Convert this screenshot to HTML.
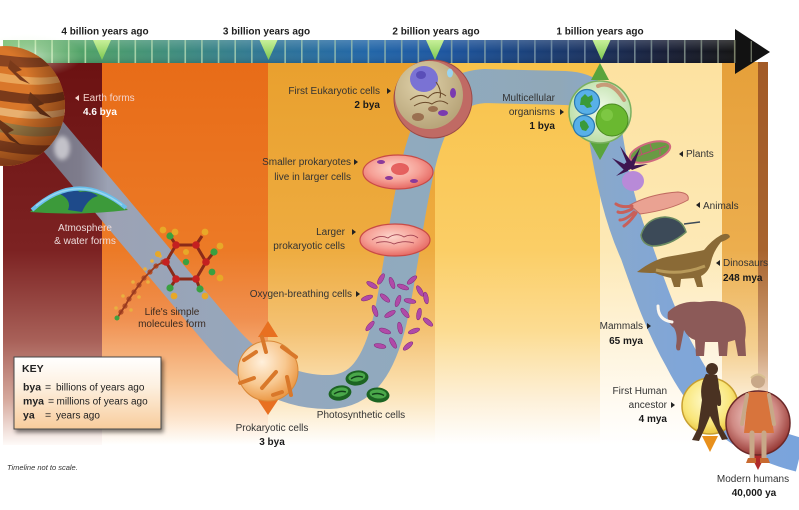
<!DOCTYPE html>
<html><head><meta charset="utf-8">
<style>
html,body{margin:0;padding:0;background:#fff;}
svg{display:block;}
text{font-family:"Liberation Sans",Arial,sans-serif;}
</style></head><body>
<svg width="799" height="510" viewBox="0 0 799 510" xmlns="http://www.w3.org/2000/svg">
<defs>
 <linearGradient id="g1" gradientUnits="userSpaceOnUse" x1="0" y1="63" x2="0" y2="445">
  <stop offset="0" stop-color="#6c1212"/><stop offset="0.49" stop-color="#7c2222"/><stop offset="0.725" stop-color="#a86058"/><stop offset="0.882" stop-color="#d6aa9e"/><stop offset="1" stop-color="#fefaf8"/>
 </linearGradient>
 <linearGradient id="g2" gradientUnits="userSpaceOnUse" x1="0" y1="63" x2="0" y2="445">
  <stop offset="0" stop-color="#e86c18"/><stop offset="0.49" stop-color="#ec7a26"/><stop offset="0.67" stop-color="#f09050"/><stop offset="0.83" stop-color="#f8c494"/><stop offset="0.935" stop-color="#fde6cf"/><stop offset="1" stop-color="#fff"/>
 </linearGradient>
 <linearGradient id="g3" gradientUnits="userSpaceOnUse" x1="0" y1="63" x2="0" y2="445">
  <stop offset="0" stop-color="#e9a02e"/><stop offset="0.49" stop-color="#eeac40"/><stop offset="0.70" stop-color="#f4c274"/><stop offset="0.86" stop-color="#fbe2b4"/><stop offset="1" stop-color="#fff"/>
 </linearGradient>
 <linearGradient id="g4" gradientUnits="userSpaceOnUse" x1="0" y1="63" x2="0" y2="445">
  <stop offset="0" stop-color="#f8c24a"/><stop offset="0.49" stop-color="#fbce66"/><stop offset="0.70" stop-color="#fcdc92"/><stop offset="0.88" stop-color="#fdf0d8"/><stop offset="1" stop-color="#fff"/>
 </linearGradient>
 <linearGradient id="g5" gradientUnits="userSpaceOnUse" x1="0" y1="63" x2="0" y2="445">
  <stop offset="0" stop-color="#fde2a0"/><stop offset="0.49" stop-color="#fde9b6"/><stop offset="0.70" stop-color="#fef2d6"/><stop offset="0.88" stop-color="#fffaf0"/><stop offset="1" stop-color="#fff"/>
 </linearGradient>
 <linearGradient id="g6" gradientUnits="userSpaceOnUse" x1="0" y1="63" x2="0" y2="445">
  <stop offset="0" stop-color="#e6a03a"/><stop offset="0.49" stop-color="#ecae4e"/><stop offset="0.75" stop-color="#f4d092"/><stop offset="0.93" stop-color="#fff8ee"/><stop offset="1" stop-color="#fff"/>
 </linearGradient>
 <linearGradient id="g7" gradientUnits="userSpaceOnUse" x1="0" y1="63" x2="0" y2="445">
  <stop offset="0" stop-color="#a25a26"/><stop offset="0.49" stop-color="#a8642e"/><stop offset="0.75" stop-color="#d0a27a"/><stop offset="0.93" stop-color="#fff4ea"/><stop offset="1" stop-color="#fff"/>
 </linearGradient>
 <linearGradient id="bar" gradientUnits="userSpaceOnUse" x1="3" y1="0" x2="736" y2="0">
  <stop offset="0" stop-color="#62b25a"/><stop offset="0.12" stop-color="#4fa06a"/><stop offset="0.25" stop-color="#3d8a80"/><stop offset="0.37" stop-color="#2e7498"/><stop offset="0.5" stop-color="#2266a8"/><stop offset="0.6" stop-color="#1d56a0"/><stop offset="0.7" stop-color="#1a4480"/><stop offset="0.8" stop-color="#1a3260"/><stop offset="0.9" stop-color="#181f38"/><stop offset="1" stop-color="#141414"/>
 </linearGradient>
 <linearGradient id="barShade" x1="0" y1="0" x2="0" y2="1">
  <stop offset="0" stop-color="#fff" stop-opacity="0.18"/><stop offset="0.5" stop-color="#fff" stop-opacity="0"/><stop offset="1" stop-color="#000" stop-opacity="0.12"/>
 </linearGradient>
 <linearGradient id="tick" gradientUnits="userSpaceOnUse" x1="3" y1="0" x2="760" y2="0">
  <stop offset="0" stop-color="#b8e4a0"/><stop offset="0.4" stop-color="#8ab8b0"/><stop offset="0.75" stop-color="#6a84a0"/><stop offset="1" stop-color="#7a8068"/>
 </linearGradient>
 <linearGradient id="mark" x1="0" y1="0" x2="0" y2="1">
  <stop offset="0" stop-color="#c8f09a"/><stop offset="1" stop-color="#7cc850"/>
 </linearGradient>
 <linearGradient id="rib" gradientUnits="userSpaceOnUse" x1="0" y1="0" x2="799" y2="0">
  <stop offset="0" stop-color="#6e6a78"/><stop offset="0.10" stop-color="#7e7c8c"/><stop offset="0.135" stop-color="#9ca2b4"/><stop offset="0.35" stop-color="#94a8be"/><stop offset="0.55" stop-color="#8faabe"/><stop offset="0.7" stop-color="#90a8b8"/><stop offset="0.76" stop-color="#88a8cc"/><stop offset="0.85" stop-color="#80a6d8"/><stop offset="1" stop-color="#7aa4dc"/>
 </linearGradient>
 <linearGradient id="keyg" x1="0" y1="0" x2="0" y2="1">
  <stop offset="0" stop-color="#ffffff"/><stop offset="0.4" stop-color="#fdf0e0"/><stop offset="1" stop-color="#f8cc9c"/>
 </linearGradient>
 <radialGradient id="earthShade" cx="0.35" cy="0.35" r="0.7">
  <stop offset="0.5" stop-color="#000" stop-opacity="0"/><stop offset="1" stop-color="#3a0a00" stop-opacity="0.5"/>
 </radialGradient>
 <radialGradient id="glow" cx="0.5" cy="0.5" r="0.5">
  <stop offset="0" stop-color="#ffffff" stop-opacity="0.8"/><stop offset="1" stop-color="#e0f8d0" stop-opacity="0"/>
 </radialGradient>
 <radialGradient id="prok" cx="0.4" cy="0.35" r="0.65">
  <stop offset="0" stop-color="#fff0dc"/><stop offset="0.6" stop-color="#f8c890"/><stop offset="1" stop-color="#ec9a48"/>
 </radialGradient>
 <radialGradient id="pink" cx="0.45" cy="0.4" r="0.6">
  <stop offset="0" stop-color="#fcd6cc"/><stop offset="0.6" stop-color="#f6a096"/><stop offset="1" stop-color="#e66a64"/>
 </radialGradient>
 <radialGradient id="euk" cx="0.4" cy="0.35" r="0.65">
  <stop offset="0" stop-color="#e0d2aa"/><stop offset="1" stop-color="#b8a57a"/>
 </radialGradient>
 <radialGradient id="ape" cx="0.45" cy="0.4" r="0.6">
  <stop offset="0" stop-color="#fffbd0"/><stop offset="0.7" stop-color="#f9e67a"/><stop offset="1" stop-color="#ecc844"/>
 </radialGradient>
 <radialGradient id="hum" cx="0.45" cy="0.4" r="0.6">
  <stop offset="0" stop-color="#f2d2cc"/><stop offset="0.6" stop-color="#d08a84"/><stop offset="1" stop-color="#983a36"/>
 </radialGradient>
 <radialGradient id="multi" cx="0.5" cy="0.45" r="0.6">
  <stop offset="0" stop-color="#f0faea"/><stop offset="1" stop-color="#b8dca0"/>
 </radialGradient>
 <clipPath id="earthClip"><circle cx="5" cy="106" r="60"/></clipPath>
 <filter id="blur2" x="-50%" y="-50%" width="200%" height="200%"><feGaussianBlur stdDeviation="2"/></filter>
 <filter id="shadow" x="-10%" y="-10%" width="130%" height="140%"><feGaussianBlur in="SourceAlpha" stdDeviation="2"/><feOffset dx="2" dy="3"/><feComponentTransfer><feFuncA type="linear" slope="0.5"/></feComponentTransfer><feMerge><feMergeNode/><feMergeNode in="SourceGraphic"/></feMerge></filter>
</defs>

<rect x="3" y="62" width="99" height="383" fill="url(#g1)"/>
<rect x="102" y="62" width="167" height="383" fill="url(#g2)"/>
<rect x="268" y="62" width="168" height="383" fill="url(#g3)"/>
<rect x="435" y="62" width="166" height="383" fill="url(#g4)"/>
<rect x="600" y="62" width="123" height="383" fill="url(#g5)"/>
<rect x="722" y="62" width="37" height="383" fill="url(#g6)"/>
<rect x="758" y="62" width="10" height="383" fill="url(#g7)"/>

<rect x="3" y="40" width="733" height="23" fill="url(#bar)"/>
<rect x="3" y="40" width="733" height="23" fill="url(#barShade)"/>
<g stroke="url(#tick)" stroke-width="1.6">
 <line x1="18.75" y1="40" x2="18.75" y2="63"/><line x1="35.4" y1="40" x2="35.4" y2="63"/><line x1="52.05" y1="40" x2="52.05" y2="63"/><line x1="68.7" y1="40" x2="68.7" y2="63"/><line x1="85.35" y1="40" x2="85.35" y2="63"/>
 <line x1="118.65" y1="40" x2="118.65" y2="63"/><line x1="135.3" y1="40" x2="135.3" y2="63"/><line x1="151.95" y1="40" x2="151.95" y2="63"/><line x1="168.6" y1="40" x2="168.6" y2="63"/><line x1="185.25" y1="40" x2="185.25" y2="63"/><line x1="201.9" y1="40" x2="201.9" y2="63"/><line x1="218.55" y1="40" x2="218.55" y2="63"/><line x1="235.2" y1="40" x2="235.2" y2="63"/><line x1="251.85" y1="40" x2="251.85" y2="63"/>
 <line x1="285.15" y1="40" x2="285.15" y2="63"/><line x1="301.8" y1="40" x2="301.8" y2="63"/><line x1="318.45" y1="40" x2="318.45" y2="63"/><line x1="335.1" y1="40" x2="335.1" y2="63"/><line x1="351.75" y1="40" x2="351.75" y2="63"/><line x1="368.4" y1="40" x2="368.4" y2="63"/><line x1="385.05" y1="40" x2="385.05" y2="63"/><line x1="401.7" y1="40" x2="401.7" y2="63"/><line x1="418.35" y1="40" x2="418.35" y2="63"/>
 <line x1="451.65" y1="40" x2="451.65" y2="63"/><line x1="468.3" y1="40" x2="468.3" y2="63"/><line x1="484.95" y1="40" x2="484.95" y2="63"/><line x1="501.6" y1="40" x2="501.6" y2="63"/><line x1="518.25" y1="40" x2="518.25" y2="63"/><line x1="534.9" y1="40" x2="534.9" y2="63"/><line x1="551.55" y1="40" x2="551.55" y2="63"/><line x1="568.2" y1="40" x2="568.2" y2="63"/><line x1="584.85" y1="40" x2="584.85" y2="63"/>
 <line x1="618.15" y1="40" x2="618.15" y2="63"/><line x1="634.8" y1="40" x2="634.8" y2="63"/><line x1="651.45" y1="40" x2="651.45" y2="63"/><line x1="668.1" y1="40" x2="668.1" y2="63"/><line x1="684.75" y1="40" x2="684.75" y2="63"/><line x1="701.4" y1="40" x2="701.4" y2="63"/><line x1="718.05" y1="40" x2="718.05" y2="63"/>
</g>
<polygon points="735,29 770,52 735,74" fill="#121212"/>
<line x1="734.7" y1="40" x2="734.7" y2="63" stroke="#7a8068" stroke-width="1.6"/>
<line x1="751.3" y1="41" x2="751.3" y2="62" stroke="#6a7060" stroke-width="1.4"/>
<polygon points="93,40 111,40 102,60" fill="url(#mark)"/>
<polygon points="259.5,40 277.5,40 268.5,60" fill="url(#mark)"/>
<polygon points="426,40 444,40 435,60" fill="url(#mark)"/>
<polygon points="592.5,40 610.5,40 601.5,60" fill="url(#mark)"/>

<g font-size="10" font-weight="bold" fill="#1e1e1e" text-anchor="middle">
 <text x="105" y="34.5">4 billion years ago</text>
 <text x="266.5" y="34.5">3 billion years ago</text>
 <text x="436" y="34.5">2 billion years ago</text>
 <text x="600" y="34.5">1 billion years ago</text>
</g>

<path d="M 20 97 L 222 337 C 250 370 285 393 330 392 C 360 391 378 370 390 320 C 400 275 405 225 415 180 C 425 130 440 88 485 86 L 565 88 C 590 89 600 100 604 125 C 612 180 622 220 637 253 C 650 290 662 325 682 360 C 705 405 740 440 800 455" fill="none" stroke="url(#rib)" stroke-width="34"/>

<ellipse cx="28" cy="56" rx="55" ry="22" fill="url(#glow)" opacity="0.7"/>
<ellipse cx="62" cy="148" rx="8" ry="12" fill="#fff" opacity="0.55" filter="url(#blur2)"/>

<g clip-path="url(#earthClip)">
 <rect x="-60" y="40" width="130" height="130" fill="#d9772a"/>
 <path d="M-60 56 C-20 44 20 66 70 54 L70 62 C20 76 -20 58 -60 66Z" fill="#8a4420"/>
 <path d="M-60 72 C-10 62 20 86 70 74 L70 80 C20 94 -10 72 -60 80Z" fill="#eaa65a"/>
 <path d="M-60 88 C-10 80 25 104 70 90 L70 98 C25 114 -10 92 -60 98Z" fill="#7a3a1a"/>
 <path d="M-60 104 C-10 98 20 120 70 108 L70 114 C20 128 -10 106 -60 112Z" fill="#e8b070"/>
 <path d="M-60 118 C-10 110 20 136 70 124 L70 132 C20 146 -10 122 -60 128Z" fill="#9a7a44"/>
 <path d="M-60 136 C-10 130 20 154 70 142 L70 150 C20 164 -10 142 -60 146Z" fill="#8a4420"/>
 <path d="M-60 154 C-10 148 20 170 70 160 L70 170 L-60 170Z" fill="#b8602a"/>
 <path d="M10 60 L22 70 L16 72 L30 84 L20 80 L8 68Z" fill="#7a3a1a"/>
 <path d="M30 92 L44 104 L38 106 L52 118 L40 114 L28 100Z" fill="#6a3418"/>
 <path d="M0 120 L14 130 L8 133 L22 146 L10 140 L-2 126Z" fill="#6a3418"/>
 <circle cx="5" cy="106" r="60" fill="url(#earthShade)"/>
</g>

<path d="M30 212 Q 78 170 128 210 Q 78 216 30 212 Z" fill="#3c9a3a"/>
<path d="M60 194 Q 72 200 68 210 L 82 212 Q 88 198 98 196 Q 90 190 80 192 Q 70 186 60 194Z" fill="#1e4a8a"/>
<path d="M32 210 Q 78 168 126 208" fill="none" stroke="#6ac0ec" stroke-width="4"/>
<path d="M36 206 Q 78 172 122 205" fill="none" stroke="#a8dcf0" stroke-width="1.5" opacity="0.8"/>

<g fill="#b4502a">
 <circle cx="163" cy="262" r="2.6"/><circle cx="156" cy="266" r="2.6"/><circle cx="150" cy="272" r="2.6"/><circle cx="144" cy="278" r="2.6"/><circle cx="139" cy="285" r="2.6"/><circle cx="134" cy="292" r="2.6"/><circle cx="129" cy="299" r="2.6"/><circle cx="125" cy="306" r="2.6"/><circle cx="121" cy="312" r="2.6"/>
</g>
<polyline points="170,258 163,262 156,266 150,272 144,278 139,285 134,292 129,299 125,306 121,312 118,317" fill="none" stroke="#9a3a1e" stroke-width="1.8"/>
<g fill="#e8b040">
 <circle cx="160" cy="256" r="1.8"/><circle cx="152" cy="261" r="1.8"/><circle cx="145" cy="269" r="1.8"/><circle cx="148" cy="282" r="1.8"/><circle cx="133" cy="282" r="1.8"/><circle cx="139" cy="297" r="1.8"/><circle cx="123" cy="296" r="1.8"/><circle cx="131" cy="310" r="1.8"/><circle cx="116" cy="308" r="1.8"/>
</g>
<circle cx="117" cy="318" r="2.5" fill="#40a040"/>
<g stroke="#8a2a18" stroke-width="3" fill="none">
 <polygon points="206,262 196,279 176,279 166,262 176,245 196,245"/>
 <line x1="206" y1="262" x2="214" y2="252"/><line x1="196" y1="279" x2="200" y2="289"/><line x1="176" y1="279" x2="170" y2="288"/><line x1="176" y1="245" x2="170" y2="236"/><line x1="196" y1="245" x2="202" y2="236"/>
</g>
<g fill="#c42020">
 <circle cx="206" cy="262" r="3.8"/><circle cx="196" cy="279" r="3.8"/><circle cx="176" cy="279" r="3.8"/><circle cx="166" cy="262" r="3.8"/><circle cx="176" cy="245" r="3.8"/><circle cx="196" cy="245" r="3.8"/>
</g>
<g fill="#3aa040">
 <circle cx="214" cy="252" r="3.6"/><circle cx="200" cy="289" r="3.6"/><circle cx="170" cy="288" r="3.6"/><circle cx="170" cy="236" r="3.6"/><circle cx="186" cy="262" r="3.2"/><circle cx="212" cy="272" r="3.4"/>
</g>
<g fill="#e8a828">
 <circle cx="220" cy="246" r="3.4"/><circle cx="205" cy="232" r="3.4"/><circle cx="163" cy="230" r="3.4"/><circle cx="175" cy="232" r="3.4"/><circle cx="205" cy="296" r="3.4"/><circle cx="174" cy="296" r="3.4"/><circle cx="220" cy="278" r="3.4"/><circle cx="158" cy="254" r="3"/><circle cx="186" cy="252" r="3"/>
</g>

<polygon points="258,337 278,337 268,321" fill="#e87020"/>
<polygon points="258,400 278,400 268,415" fill="#e87020"/>
<circle cx="268" cy="371" r="30" fill="url(#prok)" stroke="#d88838" stroke-width="1"/>
<g stroke="#d9782a" stroke-width="4" stroke-linecap="round">
 <line x1="262" y1="337" x2="266" y2="352"/><line x1="282" y1="347" x2="296" y2="357"/><line x1="244" y1="360" x2="256" y2="352"/><line x1="262" y1="388" x2="276" y2="372"/><line x1="240" y1="383" x2="254" y2="378"/><line x1="287" y1="377" x2="291" y2="395"/><line x1="273" y1="395" x2="282" y2="392"/>
</g>

<g>
 <g transform="translate(357,378) rotate(-8)"><ellipse rx="11.5" ry="7.5" fill="#1c6422"/><ellipse cy="-1" rx="8.5" ry="4.5" fill="#4aa84a"/><path d="M-6 0 Q0 -3 6 0" stroke="#12401a" stroke-width="1.5" fill="none"/></g>
 <g transform="translate(340,393) rotate(-10)"><ellipse rx="11.5" ry="7.5" fill="#1c6422"/><ellipse cy="-1" rx="8.5" ry="4.5" fill="#4aa84a"/><path d="M-6 0 Q0 -3 6 0" stroke="#12401a" stroke-width="1.5" fill="none"/></g>
 <g transform="translate(378,395) rotate(5)"><ellipse rx="11.5" ry="7.5" fill="#1c6422"/><ellipse cy="-1" rx="8.5" ry="4.5" fill="#4aa84a"/><path d="M-6 0 Q0 -3 6 0" stroke="#12401a" stroke-width="1.5" fill="none"/></g>
</g>

<g fill="#b04aa8" stroke="#80287a" stroke-width="0.5">
 <ellipse cx="372" cy="285" rx="6" ry="2.3" transform="rotate(30 372 285)"/>
 <ellipse cx="381" cy="279" rx="6" ry="2.3" transform="rotate(-60 381 279)"/>
 <ellipse cx="392" cy="283" rx="6" ry="2.3" transform="rotate(70 392 283)"/>
 <ellipse cx="403" cy="287" rx="6" ry="2.3" transform="rotate(20 403 287)"/>
 <ellipse cx="412" cy="280" rx="6" ry="2.3" transform="rotate(-40 412 280)"/>
 <ellipse cx="420" cy="291" rx="6" ry="2.3" transform="rotate(60 420 291)"/>
 <ellipse cx="367" cy="298" rx="6" ry="2.3" transform="rotate(-20 367 298)"/>
 <ellipse cx="385" cy="298" rx="6" ry="2.3" transform="rotate(40 385 298)"/>
 <ellipse cx="398" cy="301" rx="6" ry="2.3" transform="rotate(-70 398 301)"/>
 <ellipse cx="410" cy="301" rx="6" ry="2.3" transform="rotate(10 410 301)"/>
 <ellipse cx="426" cy="298" rx="6" ry="2.3" transform="rotate(80 426 298)"/>
 <ellipse cx="375" cy="311" rx="6" ry="2.3" transform="rotate(70 375 311)"/>
 <ellipse cx="390" cy="314" rx="6" ry="2.3" transform="rotate(-30 390 314)"/>
 <ellipse cx="405" cy="313" rx="6" ry="2.3" transform="rotate(50 405 313)"/>
 <ellipse cx="419" cy="314" rx="6" ry="2.3" transform="rotate(-80 419 314)"/>
 <ellipse cx="370" cy="326" rx="6" ry="2.3" transform="rotate(-50 370 326)"/>
 <ellipse cx="385" cy="331" rx="6" ry="2.3" transform="rotate(20 385 331)"/>
 <ellipse cx="400" cy="328" rx="6" ry="2.3" transform="rotate(80 400 328)"/>
 <ellipse cx="414" cy="331" rx="6" ry="2.3" transform="rotate(-20 414 331)"/>
 <ellipse cx="428" cy="322" rx="6" ry="2.3" transform="rotate(40 428 322)"/>
 <ellipse cx="393" cy="343" rx="6" ry="2.3" transform="rotate(60 393 343)"/>
 <ellipse cx="408" cy="346" rx="6" ry="2.3" transform="rotate(-40 408 346)"/>
 <ellipse cx="380" cy="346" rx="6" ry="2.3" transform="rotate(10 380 346)"/>
</g>

<ellipse cx="395" cy="240" rx="35" ry="16" fill="url(#pink)" stroke="#c84a46" stroke-width="1.2"/>
<path d="M372 240 Q 380 234 388 238 Q 396 232 404 237 Q 412 233 418 238 M376 243 Q 386 240 394 244 Q 404 240 414 243" fill="none" stroke="#a04050" stroke-width="0.9"/>
<ellipse cx="398" cy="172" rx="35" ry="17" fill="url(#pink)" stroke="#c84a46" stroke-width="1.2"/>
<ellipse cx="400" cy="169" rx="9" ry="6" fill="#e04848" opacity="0.8"/>
<g fill="#8a3a9a"><ellipse cx="381" cy="162" rx="4" ry="2"/><ellipse cx="389" cy="178" rx="4" ry="2"/><ellipse cx="414" cy="181" rx="4" ry="2"/></g>

<circle cx="433" cy="99" r="39" fill="#c06a64" stroke="#9a4a48" stroke-width="1"/>
<circle cx="429" cy="95" r="34" fill="url(#euk)"/>
<ellipse cx="424" cy="79" rx="14" ry="13" fill="#7a72d4"/>
<ellipse cx="421" cy="75" rx="5" ry="4" fill="#5a4eb8"/>
<path d="M410 100 Q 420 92 428 98 Q 436 88 446 96 M414 106 Q 424 100 432 104 Q 440 98 448 104 M436 82 Q 442 90 440 98" fill="none" stroke="#6a4a2a" stroke-width="1"/>
<ellipse cx="450" cy="73" rx="3" ry="4.5" fill="#9ad4f0"/>
<ellipse cx="453" cy="93" rx="3" ry="5" fill="#7a3ab0"/>
<ellipse cx="443" cy="113" rx="5" ry="3" fill="#7a3ab0"/>
<ellipse cx="418" cy="117" rx="6" ry="4" fill="#9a7050"/>
<ellipse cx="433" cy="109" rx="5" ry="3" fill="#9a7050"/>

<polygon points="591,80 609,80 600,63" fill="#5aa43c"/>
<polygon points="590,142 610,142 600,160" fill="#5aa43c"/>
<circle cx="600" cy="112" r="31" fill="url(#multi)" stroke="#7ab060" stroke-width="1.5"/>
<path d="M598 86 Q 612 80 624 100" fill="none" stroke="#c89a78" stroke-width="4" stroke-linecap="round"/>
<circle cx="612" cy="120" r="16" fill="#6ab830" stroke="#4a8a20"/>
<circle cx="607" cy="115" r="6" fill="#8ad050" opacity="0.6"/>
<circle cx="587" cy="102" r="12.5" fill="#58b0e8" stroke="#2a78b0" stroke-width="1.2"/>
<path d="M581 98 l4 -4 l3 3 l4 -2 l1 5 l-3 3 l2 4 l-5 1 l-3 -3 l-4 0 z" fill="#3a9a3a"/>
<circle cx="584" cy="126" r="10.5" fill="#58b0e8" stroke="#2a78b0" stroke-width="1.2"/>
<path d="M580 122 l4 -2 l3 3 l2 4 l-3 4 l-4 -1 l-2 -4 z" fill="#3a9a3a"/>

<ellipse cx="650" cy="152" rx="21" ry="9" transform="rotate(-18 650 152)" fill="#6a9a44" stroke="#d06a80" stroke-width="2"/>
<path d="M632 158 L666 146 M642 155 L640 148 M652 151 L650 144 M660 148 L660 155" stroke="#c05070" stroke-width="1"/>
<ellipse cx="633" cy="181" rx="11" ry="10" fill="#b88ad8"/>
<g fill="#3e1650">
 <path d="M628 166 L612 158 L626 172 Z"/><path d="M628 166 L620 146 L633 164 Z"/><path d="M628 166 L640 148 L634 166 Z"/><path d="M628 166 L648 164 L632 170 Z"/><path d="M628 166 L616 176 L628 171 Z"/>
 <circle cx="628" cy="166" r="4"/>
</g>

<path d="M630 205 Q 650 194 678 192 Q 690 193 688 200 Q 670 210 640 214 Z" fill="#eaa292" stroke="#c06a60" stroke-width="1"/>
<path d="M632 206 Q 622 208 616 204 M632 209 Q 622 214 618 212 M634 212 Q 626 220 620 220 M636 213 Q 630 222 624 226" fill="none" stroke="#c8605a" stroke-width="3" stroke-linecap="round"/>
<path d="M641 235 Q 646 218 665 217 Q 682 218 686 232 Q 670 246 652 246 Q 642 244 641 235 Z" fill="#3c4a58" stroke="#6a8a60" stroke-width="1.5"/>
<line x1="684" y1="224" x2="700" y2="222" stroke="#3c4a58" stroke-width="1.5"/>

<path d="M637 272 Q 655 258 672 256 Q 695 252 704 250 Q 712 240 721 235 Q 729 232 730 237 Q 727 240 721 242 Q 713 252 711 262 Q 709 272 701 276 L 703 287 L 697 287 L 694 278 L 681 279 L 680 287 L 674 287 L 671 278 Q 662 276 655 273 Q 645 273 637 272 Z" fill="#8a6a36"/>
<path d="M656 270 Q 680 276 705 266" fill="none" stroke="#b89a5a" stroke-width="3"/>

<path d="M668 312 Q 680 300 700 302 Q 725 298 740 310 Q 748 322 745 340 L 746 356 L 738 356 L 735 340 L 728 342 L 727 356 L 719 356 L 718 342 L 705 342 L 704 356 L 696 356 L 695 340 Q 688 338 684 330 Q 682 340 680 350 Q 676 352 676 346 Q 678 335 674 328 Q 666 322 668 312 Z" fill="#8c5a58"/>
<path d="M672 322 Q 658 320 658 306" fill="none" stroke="#fbf6ee" stroke-width="3" stroke-linecap="round"/>

<polygon points="702,436 718,436 710,452" fill="#e8901c"/>
<circle cx="710" cy="406" r="28" fill="url(#ape)" stroke="#c8a030" stroke-width="1.5"/>
<circle cx="712" cy="369" r="6" fill="#4a3222"/>
<path d="M706 374 Q 699 386 702 400 Q 700 414 698 428 L 692 440 L 699 441 L 705 428 L 710 416 L 716 428 L 722 440 L 728 439 L 720 425 L 717 405 Q 721 390 717 375 Z" fill="#4a3222"/>
<path d="M713 380 Q 720 392 719 404" fill="none" stroke="#4a3222" stroke-width="4" stroke-linecap="round"/>

<polygon points="750,454 766,454 758,470" fill="#b02a2a"/>
<circle cx="758" cy="423" r="32" fill="url(#hum)" stroke="#6a2828" stroke-width="1.5"/>
<circle cx="758" cy="381" r="7" fill="#c8a888"/>
<path d="M751 378 Q 758 371 765 378" fill="none" stroke="#d8c090" stroke-width="2"/>
<path d="M748 392 L 768 392 L 774 433 L 744 433 Z" fill="#d8743c"/>
<g stroke="#c8a888" stroke-linecap="round">
 <line x1="747" y1="395" x2="742" y2="424" stroke-width="4"/><line x1="769" y1="395" x2="774" y2="424" stroke-width="4"/>
 <line x1="752" y1="433" x2="752" y2="460" stroke-width="5"/><line x1="764" y1="433" x2="764" y2="460" stroke-width="5"/>
</g>
<path d="M748 458 L756 458 L756 463 L746 463 Z M760 458 L768 458 L770 463 L760 463 Z" fill="#c86a30"/>

<rect x="14" y="357" width="147" height="72" fill="url(#keyg)" stroke="#4a4a4a" stroke-width="1" filter="url(#shadow)"/>
<g font-size="10.5" fill="#222">
 <text x="22" y="372" font-weight="bold">KEY</text>
 <text x="23" y="390.5" font-weight="bold">bya</text><text x="45" y="390.5">=</text><text x="56" y="390.5" font-size="10">billions of years ago</text>
 <text x="23" y="404.5" font-weight="bold">mya</text><text x="48" y="404.5">=</text><text x="56.5" y="404.5" font-size="10">millions of years ago</text>
 <text x="23" y="418.5" font-weight="bold">ya</text><text x="45" y="418.5">=</text><text x="56" y="418.5" font-size="10">years ago</text>
</g>

<g font-size="10" fill="#333">
 <text x="83" y="101" fill="#f4d4cc">Earth forms</text>
 <text x="83" y="115" font-weight="bold" fill="#ffffff">4.6 bya</text>
 <text x="85" y="231" text-anchor="middle" fill="#ecdada">Atmosphere</text>
 <text x="85" y="244" text-anchor="middle" fill="#ecdada">&amp; water forms</text>
 <text x="172" y="315" text-anchor="middle" fill="#3a2a20">Life's simple</text>
 <text x="172" y="327" text-anchor="middle" fill="#3a2a20">molecules form</text>
 <text x="380" y="94" text-anchor="end">First Eukaryotic cells</text>
 <text x="380" y="108" text-anchor="end" font-weight="bold" fill="#1a1a1a">2 bya</text>
 <text x="351" y="165" text-anchor="end">Smaller prokaryotes</text>
 <text x="351" y="180" text-anchor="end">live in larger cells</text>
 <text x="345" y="235" text-anchor="end">Larger</text>
 <text x="345" y="249" text-anchor="end">prokaryotic cells</text>
 <text x="352" y="297" text-anchor="end">Oxygen-breathing cells</text>
 <text x="361" y="418" text-anchor="middle">Photosynthetic cells</text>
 <text x="272" y="431" text-anchor="middle">Prokaryotic cells</text>
 <text x="272" y="445" text-anchor="middle" font-weight="bold" fill="#1a1a1a">3 bya</text>
 <text x="555" y="101" text-anchor="end">Multicellular</text>
 <text x="555" y="115" text-anchor="end">organisms</text>
 <text x="555" y="129" text-anchor="end" font-weight="bold" fill="#1a1a1a">1 bya</text>
 <text x="686" y="157">Plants</text>
 <text x="703" y="209">Animals</text>
 <text x="723" y="266">Dinosaurs</text>
 <text x="723" y="281" font-weight="bold" fill="#1a1a1a">248 mya</text>
 <text x="643" y="329" text-anchor="end">Mammals</text>
 <text x="643" y="344" text-anchor="end" font-weight="bold" fill="#1a1a1a">65 mya</text>
 <text x="667" y="394" text-anchor="end">First Human</text>
 <text x="667" y="408" text-anchor="end">ancestor</text>
 <text x="667" y="422" text-anchor="end" font-weight="bold" fill="#1a1a1a">4 mya</text>
 <text x="753" y="482" text-anchor="middle">Modern humans</text>
 <text x="754" y="496" text-anchor="middle" font-weight="bold" fill="#1a1a1a">40,000 ya</text>
</g>
<text x="7" y="470" font-size="7.5" font-style="italic" fill="#333">Timeline not to scale.</text>

<g fill="#222">
 <polygon points="79,95 79,101 75,98" fill="#f4d4cc"/>
 <polygon points="387,88 387,94 391,91"/>
 <polygon points="354,159 354,165 358,162"/>
 <polygon points="352,229 352,235 356,232"/>
 <polygon points="356,291 356,297 360,294"/>
 <polygon points="560,109 560,115 564,112"/>
 <polygon points="683,151 683,157 679,154"/>
 <polygon points="700,202 700,208 696,205"/>
 <polygon points="720,260 720,266 716,263"/>
 <polygon points="647,323 647,329 651,326"/>
 <polygon points="671,402 671,408 675,405"/>
</g>
</svg>
</body></html>
